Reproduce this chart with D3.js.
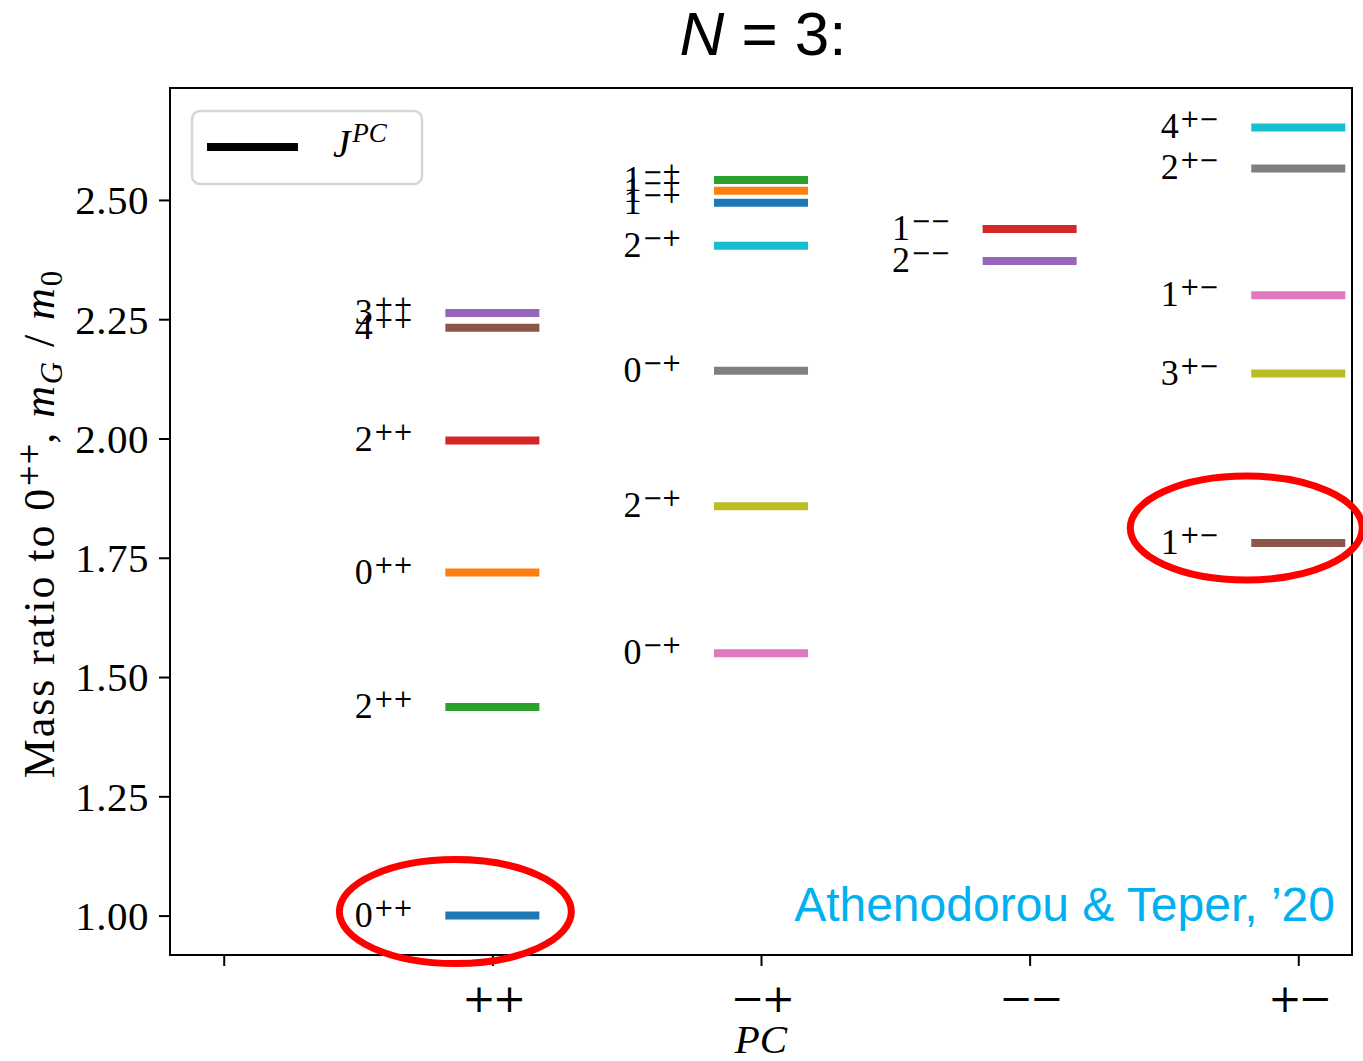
<!DOCTYPE html>
<html>
<head>
<meta charset="utf-8">
<script src="https://cdn.jsdelivr.net/npm/d3@7"></script>
<style>
  html, body { margin: 0; padding: 0; background: #fff; }
  svg { display: block; }
</style>
</head>
<body>
<svg id="chart" width="1363" height="1061"></svg>
<script>
// Glueball spectrum of SU(3): mass ratios to the lightest 0++ state, grouped by PC channel.
const channels = ["++", "\u2212+", "\u2212\u2212", "+\u2212"];
const channelPos = [1, 2, 3, 4];

const spinsPP = [0, 0, 2, 2, 3, 4];
const massPP  = [1.000, 1.719, 1.437, 1.996, 2.263, 2.232];

const spinsMP = [0, 0, 2, 2, 1, 1, 1];
const massMP  = [1.550, 2.142, 1.858, 2.404, 2.494, 2.519, 2.542];

const spinsMM = [1, 2];
const massMM  = [2.439, 2.372];

const spinsPM = [1, 1, 2, 3, 4];
const massPM  = [1.781, 2.300, 2.566, 2.136, 2.652];

const yTicks = [1.00, 1.25, 1.50, 1.75, 2.00, 2.25, 2.50];
const xTickPos = [0, 1, 2, 3, 4];
const xTickLabels = ["", "++", "\u2212+", "\u2212\u2212", "+\u2212"];

// States that get a red highlight ring: [channel index, state index]
const highlighted = [[0, 0], [3, 0]];

const spins = [spinsPP, spinsMP, spinsMM, spinsPM];
const masses = [massPP, massMP, massMM, massPM];

// Flatten into one list, colours cycling through the category palette in drawing order
const palette = d3.schemeCategory10;
const states = [];
let k = 0;
channels.forEach((ch, ci) => {
  spins[ci].forEach((J, si) => {
    states.push({ ch, ci, si, pos: channelPos[ci], J, m: masses[ci][si], color: palette[k % 10] });
    k++;
  });
});

const svg = d3.select("#chart");
const plotL = 170, plotR = 1352, plotT = 88, plotB = 955;

const x = d3.scaleLinear().domain([-0.2, 4.2]).range([plotL, plotR]);
const mMin = d3.min(states, d => d.m), mMax = d3.max(states, d => d.m);
const pad = (mMax - mMin) * 0.05;
const y = d3.scaleLinear().domain([mMin - pad, mMax + pad]).range([plotB, plotT]);

const serif = "'Liberation Serif', 'Times New Roman', serif";
const mathSym = "'DejaVu Serif', serif";
const sans = "'Liberation Sans', Arial, sans-serif";

// Title
const title = svg.append("text")
  .attr("x", (plotL + plotR) / 2 + 2).attr("y", 55)
  .attr("text-anchor", "middle")
  .attr("font-family", sans).attr("font-size", 62).attr("fill", "#000");
title.append("tspan").attr("font-style", "italic").text("N");
title.append("tspan").text(" = 3:");

// Energy levels
const halfWidth = 0.175;
svg.append("g").selectAll("line").data(states).join("line")
  .attr("x1", d => x(d.pos - halfWidth))
  .attr("x2", d => x(d.pos + halfWidth))
  .attr("y1", d => y(d.m)).attr("y2", d => y(d.m))
  .attr("stroke", d => d.color).attr("stroke-width", 8);

// J^PC labels beside each level
const labels = svg.append("g").selectAll("text").data(states).join("text")
  .attr("x", d => x(d.pos - 0.512))
  .attr("y", d => y(d.m) + 11)
  .attr("font-family", serif).attr("font-size", 36).attr("fill", "#000");
labels.append("tspan").text(d => d.J);
labels.append("tspan")
  .attr("font-family", mathSym).attr("font-size", 24)
  .attr("dy", -11).attr("dx", 1).attr("letter-spacing", -1)
  .text(d => d.ch);

// Axes frame
svg.append("rect")
  .attr("x", plotL).attr("y", plotT)
  .attr("width", plotR - plotL).attr("height", plotB - plotT)
  .attr("fill", "none").attr("stroke", "#000").attr("stroke-width", 2);

// Y axis
const yAxis = d3.axisLeft(y).tickValues(yTicks).tickFormat(d3.format(".2f"))
  .tickSize(11).tickPadding(10);
const gy = svg.append("g").attr("transform", `translate(${plotL},0)`).call(yAxis);
gy.select(".domain").remove();
gy.selectAll(".tick line").attr("stroke", "#000").attr("stroke-width", 2);
gy.selectAll(".tick text")
  .attr("font-family", serif).attr("font-size", 41).attr("fill", "#000")
  .attr("dy", "0.34em").attr("letter-spacing", 0.5);

// X axis
const xAxis = d3.axisBottom(x).tickValues(xTickPos).tickFormat((d, i) => xTickLabels[i])
  .tickSize(11).tickPadding(8);
const gx = svg.append("g").attr("transform", `translate(0,${plotB})`).call(xAxis);
gx.select(".domain").remove();
gx.selectAll(".tick line").attr("stroke", "#000").attr("stroke-width", 2);
gx.selectAll(".tick text")
  .attr("font-family", mathSym).attr("font-size", 40).attr("font-weight", 300).attr("fill", "#000")
  .attr("y", 57).attr("dy", 0).attr("letter-spacing", -3);

// Axis titles
svg.append("text")
  .attr("x", (plotL + plotR) / 2).attr("y", 1053)
  .attr("text-anchor", "middle")
  .attr("font-family", serif).attr("font-style", "italic").attr("font-size", 41)
  .text("PC");

const yl = svg.append("text")
  .attr("transform", `translate(54,${(plotT + plotB) / 2 + 2}) rotate(-90)`)
  .attr("text-anchor", "middle")
  .attr("font-family", serif).attr("font-size", 44).attr("letter-spacing", 1.9).attr("fill", "#000");
yl.append("tspan").text("Mass ratio to 0");
yl.append("tspan").attr("font-family", mathSym).attr("font-size", 27).attr("dy", -16).attr("letter-spacing", -1).text("++");
yl.append("tspan").attr("dy", 16).text(", ");
yl.append("tspan").attr("font-style", "italic").text("m");
yl.append("tspan").attr("font-style", "italic").attr("font-size", 31).attr("dy", 8).text("G");
yl.append("tspan").attr("dy", -8).text(" / ");
yl.append("tspan").attr("font-style", "italic").text("m");
yl.append("tspan").attr("font-size", 31).attr("dy", 8).text("0");

// Legend
const lg = svg.append("g");
lg.append("rect")
  .attr("x", 192).attr("y", 111).attr("width", 230).attr("height", 73).attr("rx", 8)
  .attr("fill", "#fff").attr("stroke", "#d6d6d6").attr("stroke-width", 2.5);
lg.append("line")
  .attr("x1", 207).attr("x2", 298).attr("y1", 147).attr("y2", 147)
  .attr("stroke", "#000").attr("stroke-width", 8);
const lt = lg.append("text")
  .attr("x", 333).attr("y", 157)
  .attr("font-family", serif).attr("font-style", "italic").attr("font-size", 39);
lt.append("tspan").text("J");
lt.append("tspan").attr("font-size", 27).attr("dy", -15).attr("dx", 2).text("PC");

// Source credit
svg.append("text")
  .attr("x", 1335).attr("y", 921)
  .attr("text-anchor", "end")
  .attr("font-family", sans).attr("font-size", 48).attr("fill", "#00b0f0")
  .text("Athenodorou & Teper, \u201920");

// Highlight rings around selected states
const ringOffsets = [[-37, -4], [-52, -15]];
svg.append("g").selectAll("ellipse").data(highlighted).join("ellipse")
  .attr("cx", (d, i) => x(channelPos[d[0]]) + ringOffsets[i][0])
  .attr("cy", (d, i) => y(masses[d[0]][d[1]]) + ringOffsets[i][1])
  .attr("rx", 116).attr("ry", 52)
  .attr("fill", "none").attr("stroke", "#ff0000").attr("stroke-width", 7);
</script>
</body>
</html>
